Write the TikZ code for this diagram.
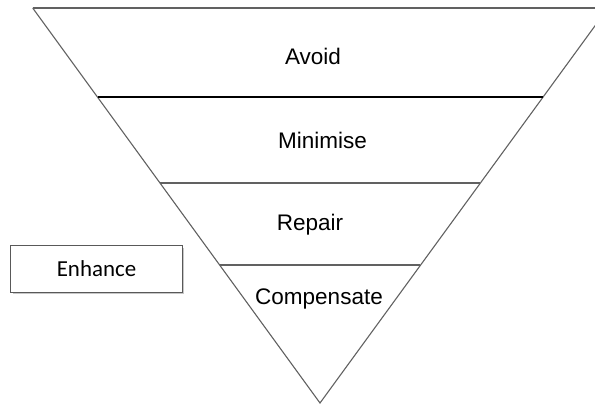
\documentclass[tikz,border=0pt]{standalone}
\usepackage{fontspec}
\setmainfont{Liberation Sans}
\newfontfamily\carlito{Carlito}
\begin{document}
\begin{tikzpicture}[x=1bp,y=-1bp,
  edge/.style={draw=black!62, line width=1.1bp},
  darkedge/.style={draw=black, line width=1.1bp},
  lvl/.style={inner sep=0pt, anchor=base, font=\fontsize{22.6}{26}\selectfont},
  sidebox/.style={draw=black!65, line width=1bp, fill=white, minimum width=171bp, minimum height=46.5bp, inner sep=0pt, font=\carlito\fontsize{23}{27}\selectfont}]
\useasboundingbox (0,0) rectangle (595,404);
% triangle corners
\coordinate (TL) at (32.7,8);
\coordinate (TR) at (608,8);
\coordinate (AP) at (320,403);
% band boundaries
\coordinate (L1) at (97.5,97);  \coordinate (R1) at (543,97);
\coordinate (L2) at (160,183);  \coordinate (R2) at (480,183);
\coordinate (L3) at (219.5,265); \coordinate (R3) at (420,265);
\draw[edge] (TL) -- (TR);
\draw[edge] (TL) -- (AP) -- (TR);
\draw[darkedge] (L1) -- (R1);
\draw[edge] (L2) -- (R2);
\draw[edge] (L3) -- (R3);
% labels
\node[lvl] (avoid) at (313,64) {Avoid};
\node[lvl] (minimise) at (322.5,148) {Minimise};
\node[lvl] (repair) at (310,230) {Repair};
\node[lvl] (compensate) at (319,304) {Compensate};
% side box with slight shadow
\fill[black!22] (12.8,247.8) rectangle (184.2,294.2);
\node[sidebox] (enhance) at (96.5,269) {Enhance};
\end{tikzpicture}
\end{document}
